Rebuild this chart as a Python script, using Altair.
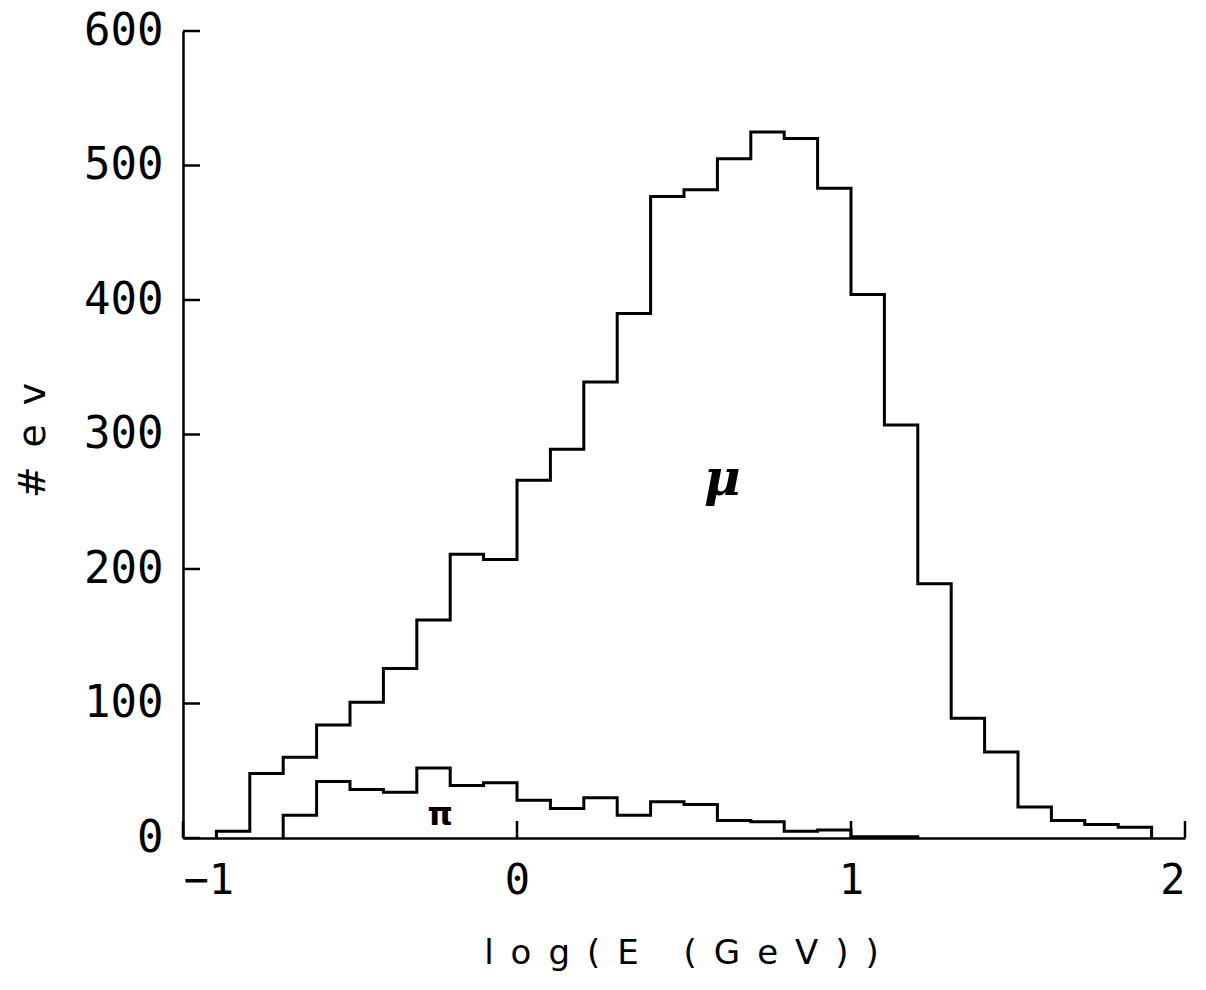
import altair as alt
import pandas as pd

# Histogram bins: width 0.1 in log(E (GeV))
mu_start = -0.9
mu_counts = [5, 48, 60, 84, 101, 126, 162, 211, 207, 266, 289, 339, 390, 477,
             482, 505, 525, 520, 483, 404, 307, 189, 89, 64, 23, 13, 10, 8]
pi_start = -0.7
pi_counts = [17, 42, 36, 34, 52, 39, 41, 28, 22, 30, 17, 27, 25, 13, 12, 5, 6, 1, 1]
bin_width = 0.1

x_ticks = [-1, 0, 1, 2]
y_ticks = [0, 100, 200, 300, 400, 500, 600]

labels = ["μ", "π"]
label_x = [0.615, -0.23]
label_y = [266, 17]
label_size = [50, 32]
label_font = ["DejaVu Serif", "DejaVu Sans"]
label_style = ["italic", "normal"]

W, H = 1002, 807
MONO = "DejaVu Sans Mono"
SANS = "DejaVu Sans"
EN = "\u2002"


def step_table(start, counts, name):
    rows = [{"x": round(start, 3), "y": 0, "s": name, "o": 0}]
    for i, c in enumerate(counts):
        rows.append({"x": round(start + i * bin_width, 3), "y": c, "s": name, "o": i + 1})
    rows.append({"x": round(start + len(counts) * bin_width, 3), "y": 0, "s": name,
                 "o": len(counts) + 1})
    return rows


hist = pd.DataFrame(step_table(mu_start, mu_counts, "mu") + step_table(pi_start, pi_counts, "pi"))

xscale = alt.Scale(domain=[-1, 2], nice=False, zero=False)
yscale = alt.Scale(domain=[0, 600], nice=False)

lines = alt.Chart(hist).mark_line(interpolate="step-after", color="black", strokeWidth=3).encode(
    x=alt.X("x:Q", scale=xscale,
            axis=alt.Axis(values=x_ticks, format="d", ticks=False, grid=False,
                          domainColor="black", domainWidth=2.5,
                          labelFont=MONO, labelFontSize=42, labelColor="black",
                          labelPadding=22,
                          title=EN.join("log(E (GeV))"), titleFont=SANS, titleFontSize=34,
                          titleFontWeight="normal", titleColor="black",
                          titleX=498, titleY=125, titleBaseline="alphabetic",
                          titleAlign="center")),
    y=alt.Y("y:Q", scale=yscale,
            axis=alt.Axis(values=y_ticks, format="d", ticks=False, grid=False,
                          domainColor="black", domainWidth=2.5,
                          labelFont=MONO, labelFontSize=44, labelColor="black",
                          labelPadding=20,
                          title=EN.join("#ev"), titleFont=SANS, titleFontSize=38,
                          titleFontWeight="normal", titleColor="black",
                          titleX=-150, titleY=409, titleAngle=-90,
                          titleBaseline="middle", titleAlign="center")),
    detail="s:N",
    order="o:Q",
)

xt = alt.Chart(pd.DataFrame({"t": x_ticks})).mark_rule(color="black", strokeWidth=2.5).encode(
    x=alt.X("t:Q", scale=xscale), y=alt.value(H), y2=alt.value(H - 17))
yt = alt.Chart(pd.DataFrame({"t": y_ticks})).mark_rule(color="black", strokeWidth=2.5).encode(
    y=alt.Y("t:Q", scale=yscale), x=alt.value(0), x2=alt.value(17))

ann_df = pd.DataFrame({"l": labels, "x": label_x, "y": label_y, "s": label_size,
                       "f": label_font, "st": label_style})
ann_mu = alt.Chart(ann_df.iloc[[0]]).mark_text(
    font="DejaVu Serif", fontStyle="italic", color="black", fontWeight="bold", fontSize=50
).encode(x=alt.X("x:Q", scale=xscale), y=alt.Y("y:Q", scale=yscale), text="l:N")
ann_pi = alt.Chart(ann_df.iloc[[1]]).mark_text(
    font="DejaVu Sans", color="black", fontWeight="bold", fontSize=32
).encode(x=alt.X("x:Q", scale=xscale), y=alt.Y("y:Q", scale=yscale), text="l:N")

chart = alt.layer(lines, xt, yt, ann_mu, ann_pi).properties(
    width=W, height=H,
    autosize=alt.AutoSizeParams(type="none"),
    padding={"left": 183, "top": 31, "right": 21, "bottom": 152},
    background="white",
).configure_view(stroke=None)

chart.save("out.html", embed_options={"renderer": "svg", "actions": False})
